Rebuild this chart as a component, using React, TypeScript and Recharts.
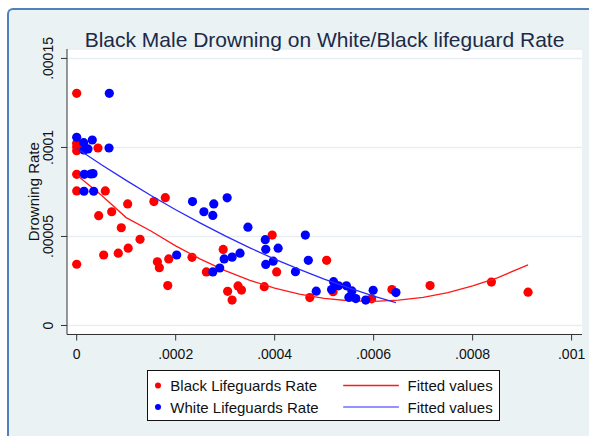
import React from 'react';
import { ScatterChart, Scatter, XAxis, YAxis, CartesianGrid, Label } from 'recharts';

const FONT = "'Liberation Sans', Arial, Helvetica, sans-serif";

// Black lifeguards rate vs. black male drowning rate
const blackX = [
  0, 0, 0, 0, 0, 0, 0, 4.3e-5, 5.78e-5, 4.44e-5, 7.07e-5, 10.3e-5, 9.01e-5, 12.8e-5,
  10.4e-5, 8.4e-5, 5.45e-5, 15.6e-5, 17.9e-5, 16.3e-5, 16.7e-5, 18.6e-5, 18.4e-5, 23.3e-5,
  26.2e-5, 29.6e-5, 30.5e-5, 31.4e-5, 32.6e-5, 33.3e-5, 37.9e-5, 39.5e-5, 40.4e-5, 47.1e-5,
  50.5e-5, 51.8e-5, 59.6e-5, 63.7e-5, 71.4e-5, 83.8e-5, 91.2e-5,
];
const blackY = [
  13.04e-5, 10.24e-5, 10.04e-5, 9.82e-5, 8.49e-5, 7.56e-5, 3.44e-5, 9.97e-5, 7.56e-5, 6.17e-5,
  6.39e-5, 6.83e-5, 5.49e-5, 4.84e-5, 4.34e-5, 4.06e-5, 3.96e-5, 6.96e-5, 7.18e-5, 3.58e-5,
  3.25e-5, 3.74e-5, 2.24e-5, 3.83e-5, 3.01e-5, 4.27e-5, 1.92e-5, 1.43e-5, 2.22e-5, 1.99e-5,
  2.18e-5, 5.08e-5, 3.01e-5, 1.57e-5, 3.66e-5, 1.9e-5, 1.5e-5, 2.02e-5, 2.24e-5, 2.44e-5,
  1.87e-5,
];

// White lifeguards rate vs. black male drowning rate
const whiteX = [
  6.59e-5, 0, 1.41e-5, 3.15e-5, 1.47e-5, 2.28e-5, 6.53e-5, 1.54e-5, 2.83e-5, 3.29e-5, 1.47e-5,
  3.43e-5, 23.4e-5, 25.7e-5, 27.7e-5, 27.5e-5, 30.4e-5, 34.6e-5, 38.1e-5, 38.2e-5, 40.7e-5,
  39.7e-5, 38.2e-5, 33.0e-5, 31.4e-5, 29.8e-5, 28.9e-5, 27.5e-5, 20.2e-5, 46.2e-5, 46.8e-5,
  44.2e-5, 48.4e-5, 51.9e-5, 51.5e-5, 52.9e-5, 54.5e-5, 55.6e-5, 55.0e-5, 56.4e-5, 58.4e-5,
  59.9e-5, 64.5e-5,
];
const whiteY = [
  13.04e-5, 10.57e-5, 10.27e-5, 10.42e-5, 9.86e-5, 9.92e-5, 9.97e-5, 8.49e-5, 8.51e-5, 8.53e-5,
  7.54e-5, 7.54e-5, 6.96e-5, 6.39e-5, 6.83e-5, 6.18e-5, 7.17e-5, 5.52e-5, 4.82e-5, 4.28e-5,
  4.34e-5, 3.61e-5, 3.43e-5, 4.06e-5, 3.84e-5, 3.74e-5, 3.23e-5, 3.01e-5, 3.96e-5, 5.08e-5,
  3.66e-5, 3.02e-5, 1.93e-5, 2.46e-5, 2.02e-5, 2.23e-5, 2.23e-5, 1.94e-5, 1.58e-5, 1.51e-5,
  1.43e-5, 1.98e-5, 1.85e-5,
];

// Fitted values (curves)
const blackFitX = [
  0, 5e-5, 10e-5, 15e-5, 20e-5, 25e-5, 30e-5, 35e-5, 40e-5, 45e-5, 50e-5, 55e-5, 60e-5,
  65e-5, 70e-5, 75e-5, 80e-5, 85e-5, 91.2e-5,
];
const blackFitY = [
  8.45e-5, 7.31e-5, 6.06e-5, 5.31e-5, 4.47e-5, 3.73e-5, 3.08e-5, 2.54e-5, 2.1e-5, 1.76e-5,
  1.52e-5, 1.39e-5, 1.35e-5, 1.42e-5, 1.58e-5, 1.85e-5, 2.22e-5, 2.68e-5, 3.41e-5,
];
const whiteFitX = [
  0, 5e-5, 10e-5, 15e-5, 20e-5, 25e-5, 30e-5, 35e-5, 40e-5, 45e-5, 50e-5, 55e-5, 60e-5, 64.5e-5,
];
const whiteFitY = [
  9.96e-5, 9.03e-5, 8.15e-5, 7.3e-5, 6.5e-5, 5.75e-5, 5.03e-5, 4.36e-5, 3.73e-5, 3.15e-5,
  2.61e-5, 2.11e-5, 1.65e-5, 1.28e-5,
];

const xTicks = [0, 0.0002, 0.0004, 0.0006, 0.0008, 0.001];
const xTickLabels = ['0', '.0002', '.0004', '.0006', '.0008', '.001'];
const yTicks = [0, 0.00005, 0.0001, 0.00015];
const yTickLabels = ['0', '.00005', '.0001', '.00015'];

const toPoints = (xs: number[], ys: number[]) => xs.map((x, i) => ({ x, y: ys[i] }));

const blackData = toPoints(blackX, blackY);
const whiteData = toPoints(whiteX, whiteY);
const blackFit = toPoints(blackFitX, blackFitY);
const whiteFit = toPoints(whiteFitX, whiteFitY);

const nearestLabel = (v: number, ticks: number[], labels: string[]) => {
  let best = 0;
  ticks.forEach((t, i) => {
    if (Math.abs(t - v) < Math.abs(ticks[best] - v)) best = i;
  });
  return labels[best];
};

// eslint-disable-next-line @typescript-eslint/no-explicit-any
const XTick = ({ x, y, payload }: any) => (
  <text x={x} y={y + 10} textAnchor="middle" fill="#111" fontSize={14} fontFamily={FONT}>
    {nearestLabel(payload.value, xTicks, xTickLabels)}
  </text>
);

// eslint-disable-next-line @typescript-eslint/no-explicit-any
const YTick = ({ x, y, payload }: any) => (
  <text transform={`translate(${x},${y}) rotate(-90)`} textAnchor="middle" fill="#111" fontSize={14} fontFamily={FONT}>
    {nearestLabel(payload.value, yTicks, yTickLabels)}
  </text>
);

// eslint-disable-next-line @typescript-eslint/no-explicit-any
const YLabel = ({ viewBox }: any) => {
  const cy = viewBox.y + viewBox.height / 2;
  return (
    <text transform={`translate(38.7,${cy}) rotate(-90)`} textAnchor="middle" fill="#111" fontSize={15} fontFamily={FONT}>
      Drowning Rate
    </text>
  );
};

// eslint-disable-next-line @typescript-eslint/no-explicit-any
const Dot = ({ cx, cy, fill }: any) => <circle cx={cx} cy={cy} r={4.6} fill={fill} />;
const NoDot = () => <g />;

const RED = '#ff0000';
const BLUE = '#0000ff';

export default function App() {
  return (
    <div style={{ position: 'absolute', left: 0, top: 0, width: 589, height: 436, background: '#fff', overflow: 'hidden' }}>
      <div
        style={{
          position: 'absolute', left: 7, top: 8, width: 600, height: 450,
          borderLeft: '2px solid #4f81bd', borderTop: '2px solid #4f81bd',
          borderTopLeftRadius: 6, background: '#eaf2f3',
        }}
      />
      <div style={{ position: 'absolute', left: 0, top: 0 }}>
        <ScatterChart width={589} height={436} margin={{ top: 49, right: 7, bottom: 0, left: 0 }}>
          <CartesianGrid vertical={false} fill="#ffffff" stroke="#e6eef1" strokeWidth={1.5} />
          <XAxis
            type="number" dataKey="x" domain={[-0.0000196, 0.001021]} ticks={xTicks}
            allowDataOverflow height={101.5} tick={<XTick />} tickSize={6} tickMargin={8}
            stroke="#333" interval={0}
          />
          <YAxis
            type="number" dataKey="y" domain={[-0.00000506, 0.0001553]} ticks={yTicks}
            allowDataOverflow width={67} tick={<YTick />} tickSize={6} tickMargin={8}
            stroke="#333" interval={0}
          >
            <Label content={<YLabel />} />
          </YAxis>
          <Scatter data={blackData} fill={RED} shape={<Dot />} isAnimationActive={false} />
          <Scatter data={blackFit} fill={RED} shape={<NoDot />} line={{ stroke: '#ff1a1a', strokeWidth: 1.3 }} isAnimationActive={false} />
          <Scatter data={whiteData} fill={BLUE} shape={<Dot />} isAnimationActive={false} />
          <Scatter data={whiteFit} fill={BLUE} shape={<NoDot />} line={{ stroke: '#2a2aff', strokeWidth: 1.3 }} isAnimationActive={false} />
        </ScatterChart>
      </div>
      <svg width={589} height={436} style={{ position: 'absolute', left: 0, top: 0, pointerEvents: 'none' }}>
        <text x={324.5} y={47} textAnchor="middle" fill="#1c2a48" fontSize={21} fontFamily={FONT}>
          Black Male Drowning on White/Black lifeguard Rate
        </text>
        <g transform="translate(147.5,370.5)">
          <rect x={0} y={0} width={352} height={50} fill="#fff" stroke="#111" strokeWidth={1} />
          <circle cx={10.5} cy={15} r={3} fill={RED} />
          <text x={22.8} y={20.4} fill="#111" fontSize={15} fontFamily={FONT}>Black Lifeguards Rate</text>
          <line x1={195.7} x2={251.4} y1={15} y2={15} stroke="#ff1a1a" strokeWidth={1.5} />
          <text x={260.1} y={20.4} fill="#111" fontSize={15} fontFamily={FONT}>Fitted values</text>
          <circle cx={10.5} cy={36.6} r={3} fill={BLUE} />
          <text x={22.8} y={42} fill="#111" fontSize={15} fontFamily={FONT}>White Lifeguards Rate</text>
          <line x1={195.7} x2={251.4} y1={36.6} y2={36.6} stroke="#6f6fff" strokeWidth={1.5} />
          <text x={260.1} y={42} fill="#111" fontSize={15} fontFamily={FONT}>Fitted values</text>
        </g>
      </svg>
    </div>
  );
}
